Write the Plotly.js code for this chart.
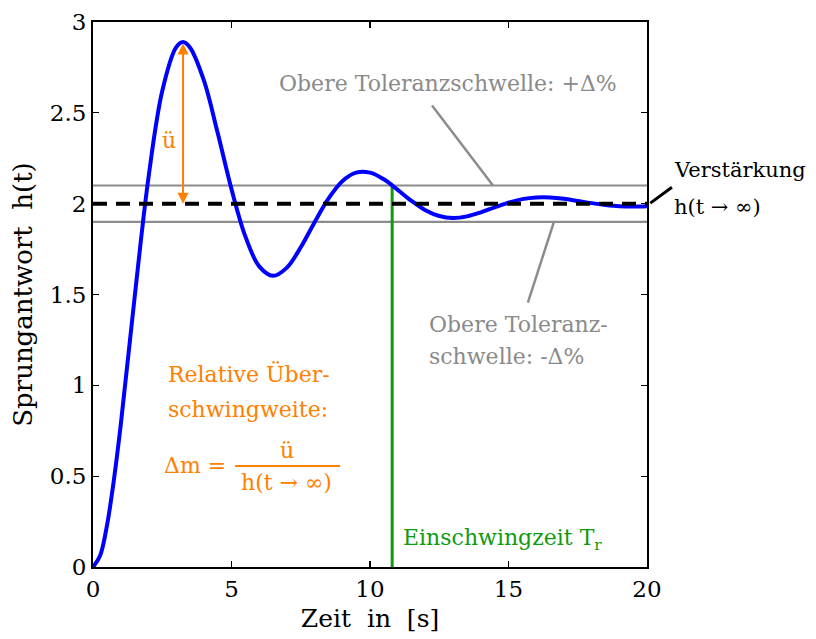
<!DOCTYPE html>
<html>
<head>
<meta charset="utf-8">
<script src="https://cdn.plot.ly/plotly-3.0.1.min.js"></script>
<style>html,body{margin:0;padding:0;background:#fff;}#chart{width:816px;height:639px;}</style>
</head>
<body>
<div id="chart"></div>
<script>
// Step response h(t)
const timeS = [0,0.25,0.5,0.75,1,1.5,2,2.5,3,3.25,3.5,4,4.5,5,5.5,6,6.5,7,7.5,8,8.5,9,9.5,10,10.5,11,11.5,12,12.5,13,13.5,14,14.5,15,15.5,16,16.5,17,17.5,18,18.5,19,19.5,20];
const stepResponse = [0,0.06,0.225,0.475,0.78,1.48,2.14,2.62,2.86,2.89,2.86,2.68,2.39,2.08,1.82,1.655,1.603,1.648,1.76,1.898,2.028,2.124,2.171,2.171,2.134,2.076,2.015,1.964,1.932,1.921,1.93,1.952,1.98,2.006,2.025,2.034,2.034,2.027,2.015,2.003,1.993,1.986,1.984,1.986];
const xRange = [0,20];
const gain = 2;
const upperTol = 2.1;
const lowerTol = 1.9;
const settlingTime = 10.8;
const peakTime = 3.25;
const peakValue = 2.89;
const xTicks = [0,5,10,15,20];
const xTickLabels = ['0','5','10','15','20'];
const yTicks = [0,0.5,1,1.5,2,2.5,3];
const yTickLabels = ['0','0.5','1','1.5','2','2.5','3'];

const serif = 'DejaVu Serif';
const grayTxt = '#8a8a8a';
const orange = '#ff8000';
const green = '#109a10';

const traces = [
  {x: xRange, y: [upperTol, upperTol], mode: 'lines', line: {color: '#8c8c8c', width: 2.2}, hoverinfo: 'skip'},
  {x: xRange, y: [lowerTol, lowerTol], mode: 'lines', line: {color: '#8c8c8c', width: 2.2}, hoverinfo: 'skip'},
  {x: [settlingTime, settlingTime], y: [0, upperTol], mode: 'lines', line: {color: green, width: 3}, hoverinfo: 'skip'},
  {x: timeS, y: stepResponse, mode: 'lines', line: {color: '#0000ff', width: 4, shape: 'spline', smoothing: 1}},
  {x: xRange, y: [gain, gain], mode: 'lines', line: {color: '#000', width: 4, dash: '14px,9px'}, hoverinfo: 'skip'}
];

function txt(x, y, text, color, size, xanchor, xref) {
  return {x: x, y: y, xref: xref || 'x', yref: 'y', text: text, showarrow: false,
          font: {family: serif, size: size, color: color}, xanchor: xanchor || 'left', yanchor: 'middle', align: 'left'};
}

const annotations = [
  txt(12.8, 2.664, 'Obere Toleranzschwelle: +Δ%', grayTxt, 22, 'center'),
  txt(12.05, 1.335, 'Obere Toleranz-', grayTxt, 22),
  txt(12.05, 1.16, 'schwelle: -Δ%', grayTxt, 22),
  txt(1.046, 2.185, 'Verstärkung', '#000', 21, 'left', 'paper'),
  txt(1.046, 1.98, 'h(t → ∞)', '#000', 21, 'left', 'paper'),
  txt(2.62, 1.06, 'Relative Über-', orange, 22),
  txt(2.62, 0.865, 'schwingweite:', orange, 22),
  txt(2.48, 0.561, 'Δm =', orange, 22),
  txt(7.0, 0.64, 'ü', orange, 22, 'center'),
  txt(7.0, 0.465, 'h(t → ∞)', orange, 22, 'center'),
  txt(11.12, 0.15, 'Einschwingzeit T<sub>r</sub>', green, 22),
  txt(2.74, 2.35, 'ü', orange, 22, 'center'),
  // double-headed overshoot arrow
  {x: peakTime, y: gain, ax: peakTime, ay: peakValue, xref: 'x', yref: 'y', axref: 'x', ayref: 'y',
   text: '', showarrow: true, arrowhead: 2, arrowside: 'end+start', arrowsize: 1.1, arrowwidth: 2, arrowcolor: orange, standoff: 0, startstandoff: 0}
];

const shapes = [
  {type: 'line', xref: 'x', yref: 'y', x0: 12.24, y0: 2.54, x1: 14.44, y1: upperTol, line: {color: '#8c8c8c', width: 2.5}},
  {type: 'line', xref: 'x', yref: 'y', x0: 16.64, y0: lowerTol, x1: 15.70, y1: 1.455, line: {color: '#8c8c8c', width: 2.5}},
  {type: 'line', xref: 'paper', yref: 'y', x0: 1.006, y0: 2.003, x1: 1.045, y1: 2.09, line: {color: '#000', width: 3}},
  {type: 'line', xref: 'x', yref: 'y', x0: 5.13, y0: 0.556, x1: 8.92, y1: 0.556, line: {color: orange, width: 2}}
];

const axisCommon = {
  showgrid: false, zeroline: false, showline: true, linecolor: '#000', linewidth: 2, mirror: 'ticks',
  ticks: 'inside', ticklen: 6, tickwidth: 1.2, tickcolor: '#000',
  tickfont: {family: serif, size: 23, color: '#000'}
};

const layout = {
  width: 816, height: 639,
  margin: {l: 93, r: 169, t: 22, b: 72},
  paper_bgcolor: '#fff', plot_bgcolor: '#fff',
  showlegend: false,
  font: {family: serif},
  xaxis: Object.assign({}, axisCommon, {range: xRange, tickvals: xTicks, ticktext: xTickLabels,
    title: {text: 'Zeit  in  [s]', font: {family: serif, size: 25, color: '#000'}, standoff: 9}}),
  yaxis: Object.assign({}, axisCommon, {range: [0, 3], tickvals: yTicks, ticktext: yTickLabels,
    title: {text: 'Sprungantwort  h(t)', font: {family: serif, size: 26, color: '#000'}, standoff: 10}}),
  annotations: annotations,
  shapes: shapes
};

Plotly.newPlot('chart', traces, layout, {displayModeBar: false, staticPlot: true});
</script>
</body>
</html>
